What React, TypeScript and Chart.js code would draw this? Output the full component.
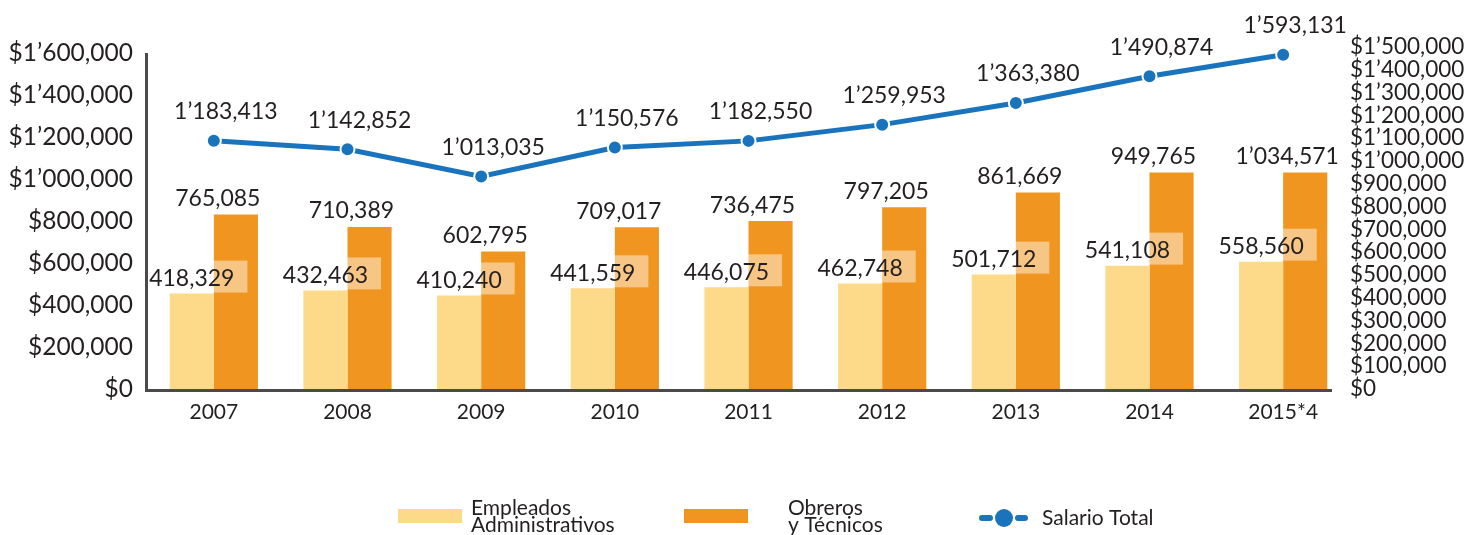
import { useEffect, useRef } from "react";
import { Chart, registerables } from "chart.js";

Chart.register(...registerables);

const years = ["2007", "2008", "2009", "2010", "2011", "2012", "2013", "2014", "2015*4"];
const empleados = [418329, 432463, 410240, 441559, 446075, 462748, 501712, 541108, 558560];
// printed values for "Obreros y Técnicos"
const obreros = [765085, 710389, 602795, 709017, 736475, 797205, 861669, 949765, 1034571];
// bar heights as drawn in the original (the 2015 bar is drawn at ~950,000)
const obrerosBar = [765085, 710389, 602795, 709017, 736475, 797205, 861669, 949765, 950000];
const salarioTotal = [1183413, 1142852, 1013035, 1150576, 1182550, 1259953, 1363380, 1490874, 1593131];
const leftTicks = [0, 200000, 400000, 600000, 800000, 1000000, 1200000, 1400000, 1600000];
const rightTicks = [
  0, 100000, 200000, 300000, 400000, 500000, 600000, 700000, 800000, 900000, 1000000, 1100000,
  1200000, 1300000, 1400000, 1500000,
];

const FONT = "Lato, 'Open Sans', sans-serif";
const TEXT = "#231f20";
const YELLOW = "#fdd98a";
const ORANGE = "#f0951f";
const BLUE = "#1a73bd";

function p3(n: number): string {
  return String(n).padStart(3, "0");
}

function fmt(v: number): string {
  const m = Math.floor(v / 1e6);
  const rest = v % 1e6;
  const th = Math.floor(rest / 1000);
  const u = rest % 1000;
  if (m > 0) return `${m}\u2019${p3(th)},${p3(u)}`;
  if (th > 0) return `${th},${p3(u)}`;
  return String(u);
}

const customPlugin = {
  id: "customDraw",
  afterDraw(chart: any) {
    const ctx = chart.ctx as CanvasRenderingContext2D;
    const area = chart.chartArea;
    const lineMeta = chart.getDatasetMeta(0);
    const yMeta = chart.getDatasetMeta(1);
    const oMeta = chart.getDatasetMeta(2);
    ctx.save();

    // axis lines
    ctx.strokeStyle = "#4a4a4a";
    ctx.lineWidth = 3;
    ctx.lineCap = "butt";
    ctx.beginPath();
    ctx.moveTo(146.5, 53);
    ctx.lineTo(146.5, area.bottom + 1.5);
    ctx.lineTo(1332, area.bottom + 1.5);
    ctx.stroke();

    // data labels
    ctx.font = `23px ${FONT}`;
    ctx.textBaseline = "middle";
    ctx.textAlign = "center";
    years.forEach((_, i) => {
      const yb = yMeta.data[i];
      const ob = oMeta.data[i];
      const pt = lineMeta.data[i];

      const txt = fmt(empleados[i]);
      const w = ctx.measureText(txt).width;
      const cx = yb.x;
      const left = cx - w / 2 - 1;
      const right = cx + w / 2 + 13;
      ctx.fillStyle = "rgba(255,255,255,0.45)";
      ctx.fillRect(left, yb.y - 33, right - left, 32);
      ctx.fillStyle = TEXT;
      ctx.fillText(txt, cx, yb.y - 15);

      const gx = (yb.x + ob.x) / 2;
      ctx.fillText(fmt(obreros[i]), gx + 4, ob.y - 16);

      ctx.fillText(fmt(salarioTotal[i]), pt.x + 12, pt.y - 29);
    });

    // legend
    ctx.fillStyle = YELLOW;
    ctx.fillRect(398, 509, 64, 14);
    ctx.fillStyle = ORANGE;
    ctx.fillRect(684, 509, 64, 14);
    ctx.fillStyle = TEXT;
    ctx.font = `21px ${FONT}`;
    ctx.textAlign = "left";
    ctx.textBaseline = "alphabetic";
    ctx.fillText("Empleados", 471, 515);
    ctx.fillText("Administrativos", 471, 532);
    ctx.fillText("Obreros", 788, 515);
    ctx.fillText("y Técnicos", 788, 532);

    ctx.strokeStyle = BLUE;
    ctx.lineWidth = 6;
    ctx.lineCap = "round";
    ctx.beginPath();
    ctx.moveTo(982, 518);
    ctx.lineTo(990, 518);
    ctx.moveTo(1018, 518);
    ctx.lineTo(1025, 518);
    ctx.stroke();
    ctx.fillStyle = BLUE;
    ctx.beginPath();
    ctx.arc(1004, 518, 9, 0, Math.PI * 2);
    ctx.fill();
    ctx.fillStyle = TEXT;
    ctx.textBaseline = "middle";
    ctx.fillText("Salario Total", 1042, 518);

    ctx.restore();
  },
};

export default function App() {
  const ref = useRef<HTMLCanvasElement | null>(null);

  useEffect(() => {
    if (!ref.current) return;
    const chart = new Chart(ref.current, {
      type: "bar",
      data: {
        labels: years,
        datasets: [
          {
            type: "line",
            label: "Salario Total",
            data: salarioTotal,
            yAxisID: "y",
            borderColor: BLUE,
            backgroundColor: BLUE,
            borderWidth: 5,
            pointRadius: 7,
            pointBackgroundColor: BLUE,
            pointBorderColor: "#ffffff",
            pointBorderWidth: 2,
            tension: 0,
            order: 0,
          } as any,
          {
            type: "bar",
            label: "Empleados Administrativos",
            data: empleados,
            yAxisID: "y1",
            backgroundColor: YELLOW,
            categoryPercentage: 0.66,
            barPercentage: 1,
            order: 1,
          },
          {
            type: "bar",
            label: "Obreros y Técnicos",
            data: obrerosBar,
            yAxisID: "y1",
            backgroundColor: ORANGE,
            categoryPercentage: 0.66,
            barPercentage: 1,
            order: 1,
          },
        ],
      },
      options: {
        responsive: false,
        animation: false,
        layout: { padding: { top: 47, left: 0, right: 0, bottom: 0 } },
        plugins: {
          legend: { display: false },
          tooltip: { enabled: false },
        },
        scales: {
          x: {
            grid: { display: false, drawTicks: false },
            border: { display: false },
            ticks: {
              color: TEXT,
              font: { family: FONT, size: 21 },
              padding: 11,
              maxRotation: 0,
              autoSkip: false,
            },
            afterFit(s: any) {
              s.height = 146;
            },
          },
          y: {
            position: "left",
            min: 0,
            max: 1630000,
            grid: { display: false, drawTicks: false },
            border: { display: false },
            ticks: {
              color: TEXT,
              font: { family: FONT, size: 24.5 },
              padding: 14,
              autoSkip: false,
              callback: (v: any) => "$" + fmt(Number(v)),
            },
            afterBuildTicks(s: any) {
              s.ticks = leftTicks.map((v) => ({ value: v }));
            },
            afterFit(s: any) {
              s.width = 147;
            },
          },
          y1: {
            position: "right",
            min: 0,
            max: 1500000,
            grid: { display: false, drawTicks: false },
            border: { display: false },
            ticks: {
              color: TEXT,
              font: { family: FONT, size: 22.5 },
              padding: 0,
              autoSkip: false,
              callback: (v: any) => "$" + fmt(Number(v)),
            },
            afterBuildTicks(s: any) {
              s.ticks = rightTicks.map((v) => ({ value: v }));
            },
            afterFit(s: any) {
              s.width = 131;
            },
          },
        },
      } as any,
      plugins: [customPlugin],
    });
    return () => chart.destroy();
  }, []);

  return (
    <div style={{ position: "absolute", left: 0, top: 0, width: 1481, height: 535 }}>
      <canvas ref={ref} width={1481} height={535} style={{ width: 1481, height: 535, display: "block" }} />
    </div>
  );
}
